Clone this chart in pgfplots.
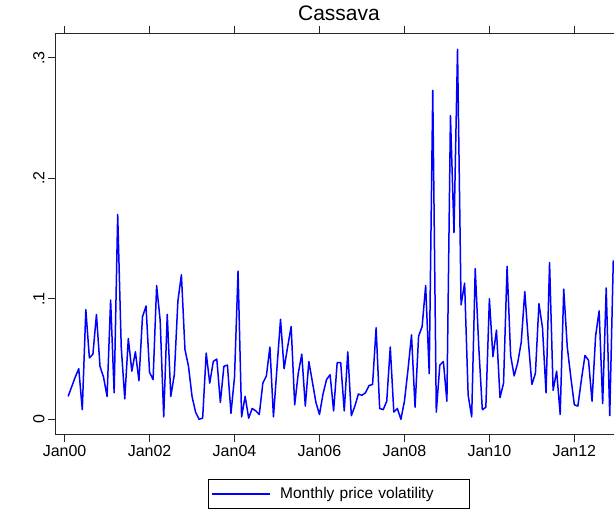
\documentclass[border=0pt]{standalone}
\usepackage{fontspec}
\setmainfont{Liberation Sans}
\usepackage{pgfplots}
\pgfplotsset{compat=1.18}
\usepackage{pgfplotstable}

% Monthly price volatility, month index 0 = Jan 2000
\pgfplotstableread{
m v
1 0.019
2 0.027
3 0.035
4 0.042
5 0.008
6 0.091
7 0.051
8 0.054
9 0.087
10 0.044
11 0.035
12 0.019
13 0.099
14 0.022
15 0.170
16 0.060
17 0.017
18 0.067
19 0.040
20 0.056
21 0.032
22 0.085
23 0.094
24 0.039
25 0.033
26 0.111
27 0.082
28 0.002
29 0.087
30 0.019
31 0.037
32 0.098
33 0.120
34 0.058
35 0.044
36 0.019
37 0.006
38 0.000
39 0.001
40 0.055
41 0.030
42 0.048
43 0.050
44 0.014
45 0.044
46 0.045
47 0.005
48 0.035
49 0.123
50 0.002
51 0.019
52 0.001
53 0.009
54 0.007
55 0.004
56 0.030
57 0.036
58 0.060
59 0.002
60 0.043
61 0.083
62 0.042
63 0.060
64 0.077
65 0.012
66 0.038
67 0.054
68 0.011
69 0.048
70 0.031
71 0.014
72 0.004
73 0.021
74 0.033
75 0.037
76 0.007
77 0.047
78 0.047
79 0.007
80 0.056
81 0.003
82 0.011
83 0.021
84 0.020
85 0.022
86 0.028
87 0.029
88 0.076
89 0.009
90 0.008
91 0.015
92 0.060
93 0.006
94 0.009
95 0.000
96 0.015
97 0.041
98 0.070
99 0.010
100 0.069
101 0.077
102 0.111
103 0.038
104 0.273
105 0.006
106 0.045
107 0.048
108 0.015
109 0.252
110 0.155
111 0.307
112 0.095
113 0.113
114 0.020
115 0.002
116 0.125
117 0.060
118 0.008
119 0.010
120 0.100
121 0.052
122 0.074
123 0.018
124 0.030
125 0.127
126 0.053
127 0.036
128 0.047
129 0.064
130 0.106
131 0.065
132 0.029
133 0.038
134 0.096
135 0.076
136 0.022
137 0.130
138 0.024
139 0.040
140 0.004
141 0.108
142 0.060
143 0.035
144 0.012
145 0.011
146 0.033
147 0.053
148 0.049
149 0.015
150 0.069
151 0.090
152 0.013
153 0.109
154 0.003
155 0.132
}\vol

\begin{document}
\begin{tikzpicture}[x=1pt,y=1pt]
\begin{axis}[
  at={(55pt,77.5pt)}, anchor=south west,
  scale only axis,
  width=559pt, height=401.5pt,
  xmin=-2.71, xmax=155.2,
  ymin=-0.0126, ymax=0.3206,
  axis x line=box, axis y line=left,
  axis line style={black!85, line width=0.8pt, -},
  tick align=outside,
  major tick length=7pt,
  tick style={black!85, line width=0.8pt},
  xtick={0,24,48,72,96,120,144},
  xticklabels={Jan00,Jan02,Jan04,Jan06,Jan08,Jan10,Jan12},
  ytick={0,0.1,0.2,0.3},
  yticklabels={0,.1,.2,.3},
  x tick label style={font=\fontsize{16}{18}\selectfont},
  y tick label style={font=\fontsize{16}{18}\selectfont, rotate=90, anchor=south},
  title={Cassava},
  title style={font=\fontsize{21}{24}\selectfont, at={(0.508,1)}, anchor=base, yshift=6pt},
  legend style={at={(0.508,-0.148)}, anchor=center,
    draw=black, line width=0.8pt,
    font=\fontsize{15.5}{18}\selectfont,
    inner xsep=3pt, inner ysep=6.5pt,
    cells={anchor=west},
    nodes={text width=184pt, align=left},
    /tikz/every odd column/.append style={column sep=7pt}},
  legend image code/.code={\draw[#1] (0pt,0pt) -- (58pt,0pt);},
]
\addplot[blue, line width=1.5pt, line join=round] table[x=m, y=v] {\vol};
\addlegendentry{Monthly price volatility}
\end{axis}
\pgfresetboundingbox
\path[use as bounding box] (0,0) rectangle (614,512);
\end{tikzpicture}
\end{document}
